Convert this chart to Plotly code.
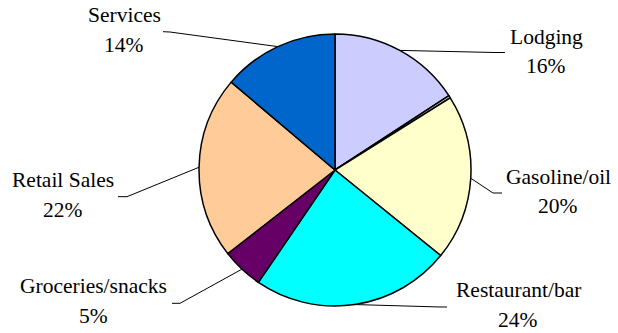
import math
import plotly.graph_objects as go

# Spending categories and their shares (percent)
categories = ["Lodging", "Other", "Gasoline/oil", "Restaurant/bar",
              "Groceries/snacks", "Retail Sales", "Services"]
shares = [16, 0.3, 20, 24, 5, 22, 14]
share_labels = ["16%", "", "20%", "24%", "5%", "22%", "14%"]
colors = ["#CCCCFF", "#C0C0C0", "#FFFFCC", "#00FFFF",
          "#660066", "#FFCC99", "#0066CC"]

W, H = 618, 333
# pie placement in pixels
CX, CY, R = 335, 170, 136

# label placement: (name center x, name center y, pct center y, leader end pts)
label_layout = {
    "Lodging":          (546, 37, 66,  [(495, 52.5), (505, 52.5)]),
    "Gasoline/oil":     (558, 177, 206, [(493, 193), (502, 193)]),
    "Restaurant/bar":   (518, 290, 320, [(440, 307), (447, 307)]),
    "Groceries/snacks": (93, 286, 316, [(180, 303.3), (172, 303.3)]),
    "Retail Sales":     (63, 180, 210, [(127, 196.7), (118, 196.7)]),
    "Services":         (124, 15, 45,  [(170, 32), (163, 31.7)]),
}


def px(x):
    return x / W


def py(y):
    return 1 - y / H


fig = go.Figure(go.Pie(
    labels=categories,
    values=shares,
    sort=False,
    direction="clockwise",
    rotation=0,
    textinfo="none",
    hoverinfo="label+percent",
    marker=dict(colors=colors, line=dict(color="black", width=1.5)),
    domain=dict(x=[px(CX - R), px(CX + R)], y=[py(CY + R), py(CY - R)]),
    showlegend=False,
))

annotations = []
shapes = []
total = sum(shares)
cum = 0.0
font = dict(family="Liberation Serif", size=21.5, color="black")
for name, val, pct in zip(categories, shares, share_labels):
    start = cum
    cum += val
    if name not in label_layout:
        continue
    mid = (start + val / 2) / total * 2 * math.pi
    ax = CX + R * math.sin(mid)
    ay = CY - R * math.cos(mid)
    lx, ly1, ly2, pts = label_layout[name]
    path_pts = [(ax, ay)] + pts
    path = "M " + " L ".join(f"{px(x):.5f},{py(y):.5f}" for x, y in path_pts)
    shapes.append(dict(type="path", path=path, xref="paper", yref="paper",
                       line=dict(color="black", width=1)))
    annotations.append(dict(x=px(lx), y=py(ly1), xref="paper", yref="paper",
                            text=name, showarrow=False, font=font,
                            xanchor="center", yanchor="middle"))
    annotations.append(dict(x=px(lx), y=py(ly2), xref="paper", yref="paper",
                            text=pct, showarrow=False, font=font,
                            xanchor="center", yanchor="middle"))

fig.update_layout(
    width=W, height=H,
    margin=dict(l=0, r=0, t=0, b=0),
    paper_bgcolor="white",
    plot_bgcolor="white",
    font=font,
    annotations=annotations,
    shapes=shapes,
)

fig.write_html("out.html")
